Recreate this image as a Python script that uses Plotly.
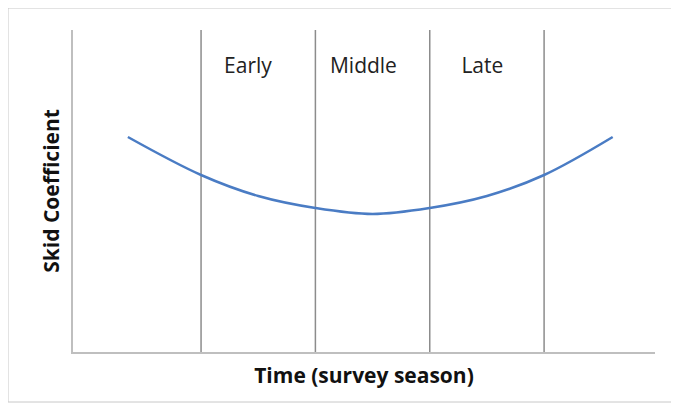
import plotly.graph_objects as go

curve_x = [0.36, 1, 1.5, 2, 2.5, 3, 3.5, 4, 4.6]
curve_y = [215, 177, 156, 144, 138, 144, 156, 177, 215]
divider_x = [1, 2, 3, 4]
phase_labels = ["Early", "Middle", "Late"]
phase_x = [1.41, 2.42, 3.46]
phase_y = [284, 284, 284]

fig = go.Figure()
for dx in divider_x:
    fig.add_trace(go.Scatter(x=[dx, dx], y=[0, 322], mode="lines",
                             line=dict(color="#8c8c8c", width=1.5), hoverinfo="skip", showlegend=False))
fig.add_trace(go.Scatter(x=curve_x, y=curve_y, mode="lines", line=dict(color="#4a7cc4", width=2.5, shape="spline"),
                         showlegend=False))
fig.add_trace(go.Scatter(x=phase_x, y=phase_y, mode="text", text=phase_labels,
                         textfont=dict(family="Open Sans", size=21, color="#222"), showlegend=False))

W, H = 582, 322
fig.add_shape(type="rect", xref="paper", yref="paper",
              x0=-65 / W, x1=1 + 17 / W, y0=-50 / H, y1=1 + 22 / H,
              line=dict(color="#c8c8c8", width=1))

fig.update_layout(
    width=679, height=413, margin=dict(l=65, r=32, t=22, b=69),
    plot_bgcolor="white", paper_bgcolor="white",
    xaxis=dict(range=[-0.12, 4.97], showticklabels=False, showgrid=False, zeroline=False,
               showline=True, linecolor="#bfbfbf", linewidth=1.5,
               title=dict(text="<b>Time (survey season)</b>", standoff=16,
                          font=dict(family="Open Sans", size=21, color="#111"))),
    yaxis=dict(range=[0, 322], showticklabels=False, showgrid=False, zeroline=False,
               showline=True, linecolor="#bfbfbf", linewidth=1.5,
               title=dict(text="<b>Skid Coefficient</b>", standoff=6,
                          font=dict(family="Open Sans", size=21, color="#111"))),
)
fig.write_html("out.html")
